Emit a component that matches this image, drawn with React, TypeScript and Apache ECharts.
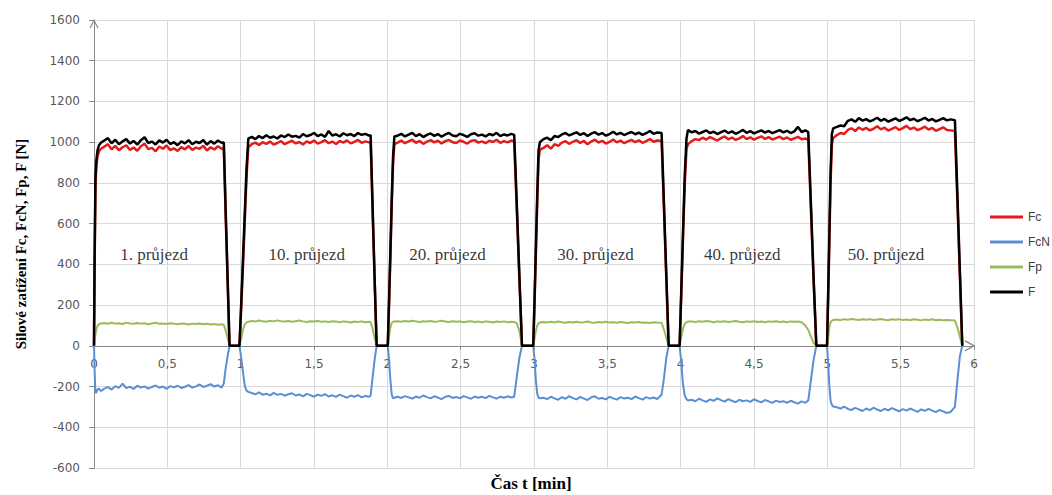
import { useEffect, useRef } from "react";
import * as echarts from "echarts";

// time [min], shared by all four series (6 passes)
const time = [
  0, 0.004, 0.01, 0.016, 0.024, 0.034, 0.048,
  0.07, 0.095, 0.12, 0.145, 0.17, 0.195, 0.22, 0.245, 0.27, 0.295, 0.32, 0.345, 0.37, 0.395, 0.42, 0.445, 0.47, 0.495, 0.52, 0.545, 0.57, 0.595, 0.62, 0.645, 0.67, 0.695, 0.72, 0.745, 0.77, 0.795, 0.82, 0.845, 0.87,
  0.885, 0.898, 0.911, 0.924,
  0.992, 1.004, 1.016, 1.028, 1.04, 1.052,
  1.075, 1.1, 1.125, 1.15, 1.175, 1.2, 1.225, 1.25, 1.275, 1.3, 1.325, 1.35, 1.375, 1.4, 1.425, 1.45, 1.475, 1.5, 1.525, 1.55, 1.575, 1.6, 1.625, 1.65, 1.675, 1.7, 1.725, 1.75, 1.775, 1.8, 1.825, 1.85, 1.875,
  1.886, 1.899, 1.913, 1.927,
  2.003, 2.012, 2.021, 2.03, 2.039, 2.048,
  2.07, 2.095, 2.12, 2.145, 2.17, 2.195, 2.22, 2.245, 2.27, 2.295, 2.32, 2.345, 2.37, 2.395, 2.42, 2.445, 2.47, 2.495, 2.52, 2.545, 2.57, 2.595, 2.62, 2.645, 2.67, 2.695, 2.72, 2.745, 2.77, 2.795, 2.82, 2.845,
  2.865, 2.883, 2.9, 2.918,
  2.995, 3.004, 3.013, 3.022, 3.031, 3.04,
  3.065, 3.09, 3.115, 3.14, 3.165, 3.19, 3.215, 3.24, 3.265, 3.29, 3.315, 3.34, 3.365, 3.39, 3.415, 3.44, 3.465, 3.49, 3.515, 3.54, 3.565, 3.59, 3.615, 3.64, 3.665, 3.69, 3.715, 3.74, 3.765, 3.79, 3.815, 3.84,
  3.87, 3.886, 3.902, 3.918,
  3.993, 4.004, 4.016, 4.028, 4.04, 4.05,
  4.075, 4.1, 4.125, 4.15, 4.175, 4.2, 4.225, 4.25, 4.275, 4.3, 4.325, 4.35, 4.375, 4.4, 4.425, 4.45, 4.475, 4.5, 4.525, 4.55, 4.575, 4.6, 4.625, 4.65, 4.675, 4.7, 4.725, 4.75, 4.775, 4.8, 4.825, 4.85,
  4.87, 4.888, 4.906, 4.925,
  4.998, 5.006, 5.014, 5.022, 5.031, 5.04,
  5.065, 5.09, 5.115, 5.14, 5.165, 5.19, 5.215, 5.24, 5.265, 5.29, 5.315, 5.34, 5.365, 5.39, 5.415, 5.44, 5.465, 5.49, 5.515, 5.54, 5.565, 5.59, 5.615, 5.64, 5.665, 5.69, 5.715, 5.74, 5.765, 5.79, 5.815, 5.84,
  5.87, 5.887, 5.904, 5.92,
];

const Fc = [
  0, 380, 790, 880, 930, 955, 968,
  978, 990, 965, 982, 960, 975, 985, 962, 974, 958, 980, 992, 966, 972, 955, 979, 968, 984, 961, 970, 957, 976, 965, 981, 962, 973, 967, 983, 959, 975, 964, 980, 968,
  970, 635, 318, 0,
  0, 190, 400, 615, 830, 975,
  990, 998, 986, 1000, 992, 1003, 988, 996, 1005, 990, 999, 1007, 994, 1001, 989, 1004, 996, 1008, 993, 1000, 1010, 995, 1003, 991, 1006, 998, 1009, 994, 1002, 1011, 997, 1004, 999,
  1000, 680, 330, 0,
  0, 210, 440, 690, 895, 990,
  998, 1008, 995, 1004, 1012, 997, 1006, 992, 1003, 1010, 999, 1007, 994, 1005, 1011, 1000, 996, 1008, 1002, 993, 1006, 1010, 998, 1004, 995, 1007, 1001, 1012, 997, 1005, 999, 1008,
  1003, 665, 335, 0,
  0, 215, 460, 705, 915, 962,
  972, 985, 968, 990, 982, 998, 1005, 992, 1002, 1010, 996, 1006, 990, 1003, 1012, 998, 1007, 993, 1001, 1013, 999, 1008, 995, 1004, 1011, 1000, 1009, 997, 1005, 1015, 1002, 1008,
  1006, 670, 335, 0,
  0, 250, 530, 800, 970, 990,
  1005, 1015, 1010, 1022, 1013, 1025, 1016, 1008, 1020, 1028, 1014, 1023, 1011, 1019, 1030, 1015, 1024, 1012, 1021, 1029, 1016, 1025, 1013, 1020, 1027, 1015, 1023, 1012, 1019, 1026, 1014, 1018,
  1012, 670, 330, 0,
  0, 250, 520, 800, 990, 1020,
  1035, 1045, 1040, 1060, 1068, 1055, 1072, 1061, 1070, 1058, 1066, 1078, 1063, 1071, 1057, 1065, 1074, 1060, 1069, 1080, 1064, 1072, 1059, 1067, 1076, 1062, 1070, 1056, 1064, 1073, 1060, 1058,
  1055, 700, 340, 0,
];

const FcN = [
  0, -120, -232, -228, -215, -210, -222,
  -210, -203, -215, -198, -207, -186, -208, -200, -212, -196, -205, -199, -210, -202, -195, -206, -200, -211, -198, -204, -196, -207, -201, -193, -205, -199, -190, -202, -196, -188, -200, -194, -205,
  -185, -110, -50, 0,
  0, -60, -130, -195, -220, -226,
  -232, -238, -229, -240, -235, -243, -231, -241, -236, -245, -238, -233, -244, -239, -248, -236, -242, -250, -240, -246, -237, -249, -243, -251, -240, -247, -255, -244, -250, -242, -253, -246, -250,
  -245, -160, -70, 0,
  0, -70, -170, -240, -258, -255,
  -250, -256, -247, -253, -259, -249, -255, -244, -252, -258, -248, -254, -262, -250, -246, -256, -251, -258, -247, -253, -260, -249, -255, -250, -257, -246, -253, -259, -250, -255, -248, -254,
  -250, -150, -60, 0,
  0, -70, -170, -235, -255, -258,
  -255, -262, -250, -258, -265, -252, -260, -247, -257, -263, -251, -259, -266, -253, -248, -260, -256, -263, -250, -258, -264, -252, -259, -255, -262, -249, -257, -264, -252, -259, -254, -261,
  -240, -160, -60, 0,
  0, -80, -190, -245, -262, -268,
  -265, -272, -260, -268, -275, -263, -270, -258, -267, -274, -262, -270, -277, -265, -272, -268, -275, -263, -271, -278, -266, -273, -280, -269, -276, -272, -280, -270, -277, -284, -273, -280,
  -268, -170, -70, 0,
  0, -90, -200, -270, -290, -298,
  -302, -308, -298, -310, -315, -305, -312, -320, -308, -316, -304, -313, -320, -309, -317, -306, -314, -322, -311, -318, -308, -316, -324, -312, -319, -310, -318, -326, -315, -322, -330, -325,
  -300, -170, -50, 0,
];

const Fp = [
  0, 22, 55, 80, 98, 106, 110,
  112, 108, 113, 109, 111, 107, 114, 110, 108, 112, 109, 111, 106, 110, 113, 108, 110, 107, 111, 109, 106, 110, 108, 105, 109, 107, 110, 106, 108, 105, 107, 104, 106,
  104, 75, 38, 0,
  0, 35, 80, 105, 115, 118,
  122, 119, 124, 121, 118, 123, 120, 125, 121, 119, 122, 118, 121, 124, 120, 117, 121, 119, 122, 118, 120, 117, 121, 119, 116, 120, 118, 115, 119, 117, 120, 116, 118,
  116, 85, 40, 0,
  0, 45, 90, 112, 118, 120,
  121, 118, 122, 119, 123, 120, 117, 121, 119, 122, 118, 120, 123, 119, 117, 121, 118, 120, 116, 119, 121, 117, 119, 116, 120, 118, 115, 119, 117, 120, 116, 118,
  117, 110, 75, 0,
  0, 35, 75, 100, 110, 114,
  117, 114, 118, 115, 119, 116, 113, 117, 115, 118, 114, 116, 119, 115, 113, 117, 115, 118, 114, 116, 113, 117, 115, 112, 116, 114, 117, 113, 115, 112, 116, 114,
  113, 80, 40, 0,
  0, 40, 85, 108, 116, 119,
  120, 117, 121, 118, 122, 119, 116, 120, 118, 121, 117, 119, 122, 118, 116, 120, 118, 121, 117, 119, 116, 120, 118, 121, 117, 119, 116, 120, 118, 119, 116, 100,
  78, 45, 15, 0,
  0, 40, 90, 115, 124, 127,
  129, 126, 131, 128, 132, 129, 127, 130, 128, 131, 127, 129, 132, 128, 126, 130, 128, 131, 127, 129, 126, 130, 128, 125, 129, 127, 130, 126, 128, 125, 127, 126,
  124, 90, 45, 0,
];

const F = [
  0, 420, 830, 910, 960, 985, 998,
  1008, 1020, 994, 1012, 990, 1004, 1015, 993, 1006, 988, 1010, 1024, 996, 1003, 989, 1009, 998, 1012, 991, 1000, 985, 1004, 994, 1010, 990, 1002, 996, 1011, 988, 1005, 993, 1008, 997,
  998, 660, 330, 0,
  0, 215, 430, 650, 870, 1018,
  1026, 1015, 1030, 1020, 1034, 1022, 1028, 1018, 1033, 1025, 1038, 1027, 1031, 1022, 1040, 1029, 1035, 1045, 1030, 1038, 1026, 1055, 1033, 1039, 1028, 1044, 1034, 1040, 1030, 1045, 1036, 1041, 1032,
  1035, 700, 340, 0,
  0, 230, 470, 720, 930, 1028,
  1032, 1041, 1028, 1037, 1046, 1030, 1039, 1025, 1036, 1043, 1031, 1040, 1027, 1038, 1045, 1033, 1029, 1041, 1035, 1026, 1039, 1044, 1032, 1037, 1028, 1040, 1034, 1046, 1030, 1038, 1033, 1041,
  1036, 690, 350, 0,
  0, 240, 490, 740, 960, 1000,
  1015, 1022, 1010, 1030, 1025, 1038, 1045, 1033, 1041, 1048, 1036, 1044, 1030, 1042, 1049, 1037, 1045, 1032, 1040, 1051, 1038, 1046, 1035, 1043, 1050, 1039, 1047, 1036, 1044, 1055, 1041, 1048,
  1045, 700, 350, 0,
  0, 270, 560, 840, 1020, 1060,
  1048, 1055, 1042, 1050, 1058, 1044, 1052, 1040, 1049, 1057, 1045, 1053, 1041, 1050, 1060, 1046, 1054, 1043, 1051, 1058, 1047, 1055, 1044, 1052, 1059, 1048, 1056, 1045, 1053, 1075, 1050, 1058,
  1050, 700, 340, 0,
  0, 270, 560, 850, 1040, 1068,
  1075, 1082, 1078, 1105, 1112, 1100, 1118, 1106, 1113, 1102, 1110, 1120, 1105, 1114, 1101, 1109, 1117, 1104, 1112, 1122, 1108, 1115, 1103, 1111, 1120, 1106, 1114, 1102, 1110, 1118, 1107, 1112,
  1108, 740, 360, 0,
];

const seriesNames = ["Fc", "FcN", "Fp", "F"];
const seriesColors = ["#e31b1b", "#5b8fd4", "#9bbb59", "#000000"];
const seriesWidths = [2.5, 2, 2, 2.5];

const passLabels = ["1. průjezd", "10. průjezd", "20. průjezd", "30. průjezd", "40. průjezd", "50. průjezd"];
const passLabelX = [0.41, 1.45, 2.41, 3.42, 4.42, 5.4];
const passLabelY = [450, 450, 450, 450, 450, 450];

const yAxisTitle = "Silové zatížení Fc, FcN, Fp, F [N]";
const xAxisTitle = "Čas t [min]";

const chevron = "path://M5,0 L10,9 L9,10 L5,2.6 L1,10 L0,9 Z";

const GRID_TOP = 20;
const GRID_BOTTOM = 27;
const CHART_H = 495;
const Y_MIN = -600;
const Y_MAX = 1600;

export default function App() {
  const ref = useRef<HTMLDivElement>(null);
  useEffect(() => {
    const chart = echarts.init(ref.current!, null, { renderer: "svg" });
    const zip = (v: number[]) => time.map((t, i) => [t, v[i]]).filter((p) => p[1] !== undefined);
    const values = [Fc, FcN, Fp, F];
    const plotH = CHART_H - GRID_TOP - GRID_BOTTOM;
    // move the x axis (line, ticks, labels) up to the zero level
    const zeroOffset = -(plotH * (0 - Y_MIN)) / (Y_MAX - Y_MIN);
    chart.setOption({
      animation: false,
      backgroundColor: "#ffffff",
      grid: { left: 94, right: 78, top: GRID_TOP, bottom: GRID_BOTTOM, containLabel: false, outerBoundsMode: "none" },
      legend: {
        orient: "vertical",
        left: 990,
        top: 211,
        padding: 0,
        icon: "rect",
        itemWidth: 33,
        itemHeight: 3,
        itemGap: 13,
        textStyle: { color: "#404040", fontFamily: "Liberation Sans", fontSize: 12 },
        data: seriesNames,
      },
      xAxis: {
        type: "value",
        min: 0,
        max: 6,
        interval: 0.5,
        position: "bottom",
        offset: zeroOffset,
        axisLine: {
          onZero: false,
          lineStyle: { color: "#8a8a8a", width: 1 },
          symbol: ["none", chevron],
          symbolSize: [11, 12],
          symbolOffset: [0, -4],
        },
        axisTick: { show: true, length: 4, lineStyle: { color: "#8a8a8a" } },
        axisLabel: {
          color: "#595959",
          fontFamily: "DejaVu Sans",
          fontSize: 12,
          margin: 12,
          formatter: (v: number) => String(v).replace(".", ","),
        },
        splitLine: { show: true, lineStyle: { color: "#d9d9d9", width: 1 } },
      },
      yAxis: {
        type: "value",
        min: Y_MIN,
        max: Y_MAX,
        interval: 200,
        name: yAxisTitle,
        nameLocation: "middle",
        nameGap: 66,
        nameTextStyle: { fontFamily: "Liberation Serif", fontWeight: "bold", fontSize: 15, color: "#000" },
        axisLine: {
          show: true,
          onZero: false,
          lineStyle: { color: "#8a8a8a", width: 1 },
          symbol: ["none", chevron],
          symbolSize: [11, 9],
          symbolOffset: [0, -4],
        },
        axisTick: { show: true, length: 5, lineStyle: { color: "#8a8a8a" } },
        axisLabel: {
          color: "#595959",
          fontFamily: "DejaVu Sans",
          fontSize: 12,
          margin: 14,
          formatter: (v: number) => String(v),
        },
        splitLine: { show: true, lineStyle: { color: "#d9d9d9", width: 1 } },
      },
      graphic: [
        {
          type: "text",
          x: 531,
          y: 483,
          style: {
            text: xAxisTitle,
            fontFamily: "Liberation Serif",
            fontWeight: "bold",
            fontSize: 17,
            fill: "#000",
            align: "center",
            verticalAlign: "middle",
          },
        },
      ],
      series: [
        ...seriesNames.map((name, k) => ({
          type: "line",
          name,
          data: zip(values[k]),
          showSymbol: false,
          symbol: "none",
          lineStyle: { color: seriesColors[k], width: seriesWidths[k] },
          itemStyle: { color: seriesColors[k] },
          z: 2 + k,
        })),
        {
          type: "scatter",
          name: "labels",
          silent: true,
          symbolSize: 0.1,
          itemStyle: { color: "transparent" },
          data: passLabelX.map((x, i) => [x, passLabelY[i]]),
          label: {
            show: true,
            position: "inside",
            formatter: (p: any) => passLabels[p.dataIndex],
            fontFamily: "Liberation Serif",
            fontSize: 17,
            color: "#000",
          },
          z: 10,
        },
      ],
    });
    return () => chart.dispose();
  }, []);
  return (
    <div
      ref={ref}
      style={{ position: "fixed", left: 0, top: 0, width: 1052, height: 495, background: "#fff" }}
    />
  );
}
